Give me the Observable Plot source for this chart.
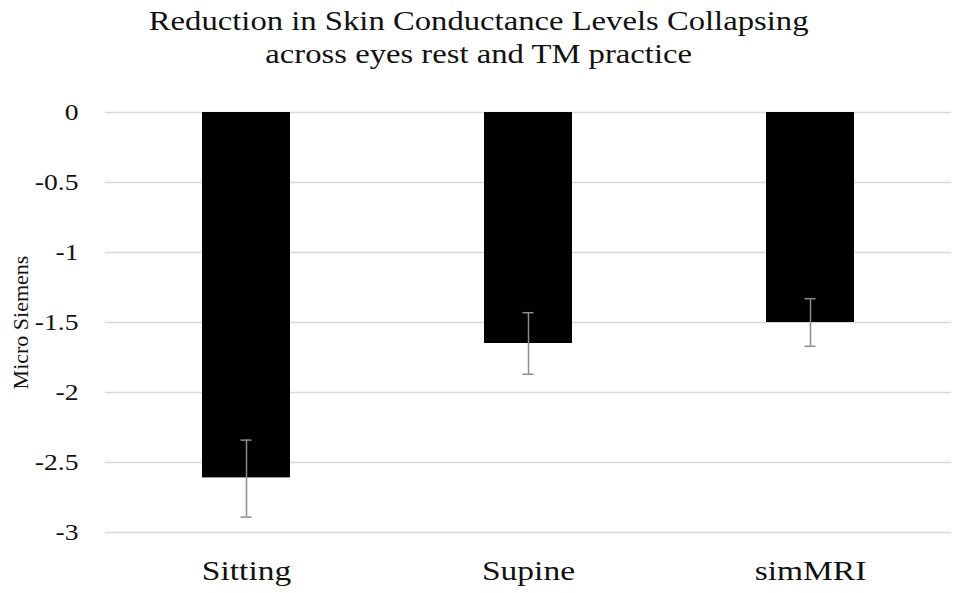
<!DOCTYPE html>
<html>
<head>
<meta charset="utf-8">
<script src="https://cdn.jsdelivr.net/npm/d3@7"></script>
<script src="https://cdn.jsdelivr.net/npm/@observablehq/plot@0.6"></script>
<style>
  html, body { margin: 0; padding: 0; background: #fff; overflow: hidden; }
  #title { font-family: "Liberation Serif", "Times New Roman", serif; font-size: 27px; line-height: 33px;
           text-align: center; color: #111; padding-top: 5px; height: 70px; box-sizing: border-box; width: 955px;
           transform: scaleX(1.21); transform-origin: 472px 0; }
  #chart svg { display: block; }
  g[aria-label="y-axis label"] text { font-size: 22px; }
</style>
</head>
<body>
<div id="title">Reduction in Skin Conductance Levels Collapsing<br>across eyes rest and TM practice</div>
<div id="chart"></div>
<script>
const categories = ["Sitting", "Supine", "simMRI"];
const means = [-2.61, -1.65, -1.50];
const errLow = [-2.89, -1.87, -1.67];
const errHigh = [-2.34, -1.43, -1.33];
const yTicks = [0, -0.5, -1, -1.5, -2, -2.5, -3];

const data = categories.map((c, i) => ({cat: c, mean: means[i], lo: errLow[i], hi: errHigh[i]}));

const plot = Plot.plot({
  width: 955,
  height: 523,
  marginTop: 42,
  marginBottom: 61,
  marginLeft: 105,
  marginRight: 4,
  style: {fontFamily: "'Liberation Serif', 'Times New Roman', serif", color: "#111", background: "#fff"},
  x: {domain: categories, padding: 0},
  y: {domain: [-3, 0]},
  marks: [
    Plot.gridY(yTicks, {stroke: "#d9d9d9", strokeOpacity: 1, strokeWidth: 1.5}),
    Plot.barY(data, {x: "cat", y: "mean", fill: "#000", insetLeft: 97, insetRight: 97}),
    Plot.ruleX(data, {x: "cat", y1: "lo", y2: "hi", stroke: "#8c8c8c", strokeWidth: 1.5}),
    Plot.tickY(data, {x: "cat", y: "lo", stroke: "#8c8c8c", strokeWidth: 1.5, insetLeft: 135.5, insetRight: 135.5}),
    Plot.tickY(data, {x: "cat", y: "hi", stroke: "#8c8c8c", strokeWidth: 1.5, insetLeft: 135.5, insetRight: 135.5}),
    Plot.axisY(yTicks, {tickSize: 0, tickPadding: 27, fontSize: 23, tickFormat: d => String(d),
      label: "Micro Siemens", labelAnchor: "center", labelArrow: "none", labelOffset: 93}),
    Plot.axisX({tickSize: 0, tickPadding: 28, fontSize: 27, label: null})
  ]
});

// The reference typography is horizontally stretched; widen tick label glyphs to match.
function stretch(sel, s) {
  plot.querySelectorAll(sel).forEach(el => {
    const xa = el.getAttribute("x");
    let pre = "";
    if (xa !== null && !isNaN(+xa)) { el.removeAttribute("x"); pre = ` translate(${+xa},0)`; }
    const t = el.getAttribute("transform") || "";
    el.setAttribute("transform", `${t}${pre} scale(${s},1)`);
  });
}
stretch('g[aria-label="y-axis tick label"] text', 1.2);
stretch('g[aria-label="x-axis tick label"] text', 1.24);

document.getElementById("chart").appendChild(plot);
</script>
</body>
</html>
